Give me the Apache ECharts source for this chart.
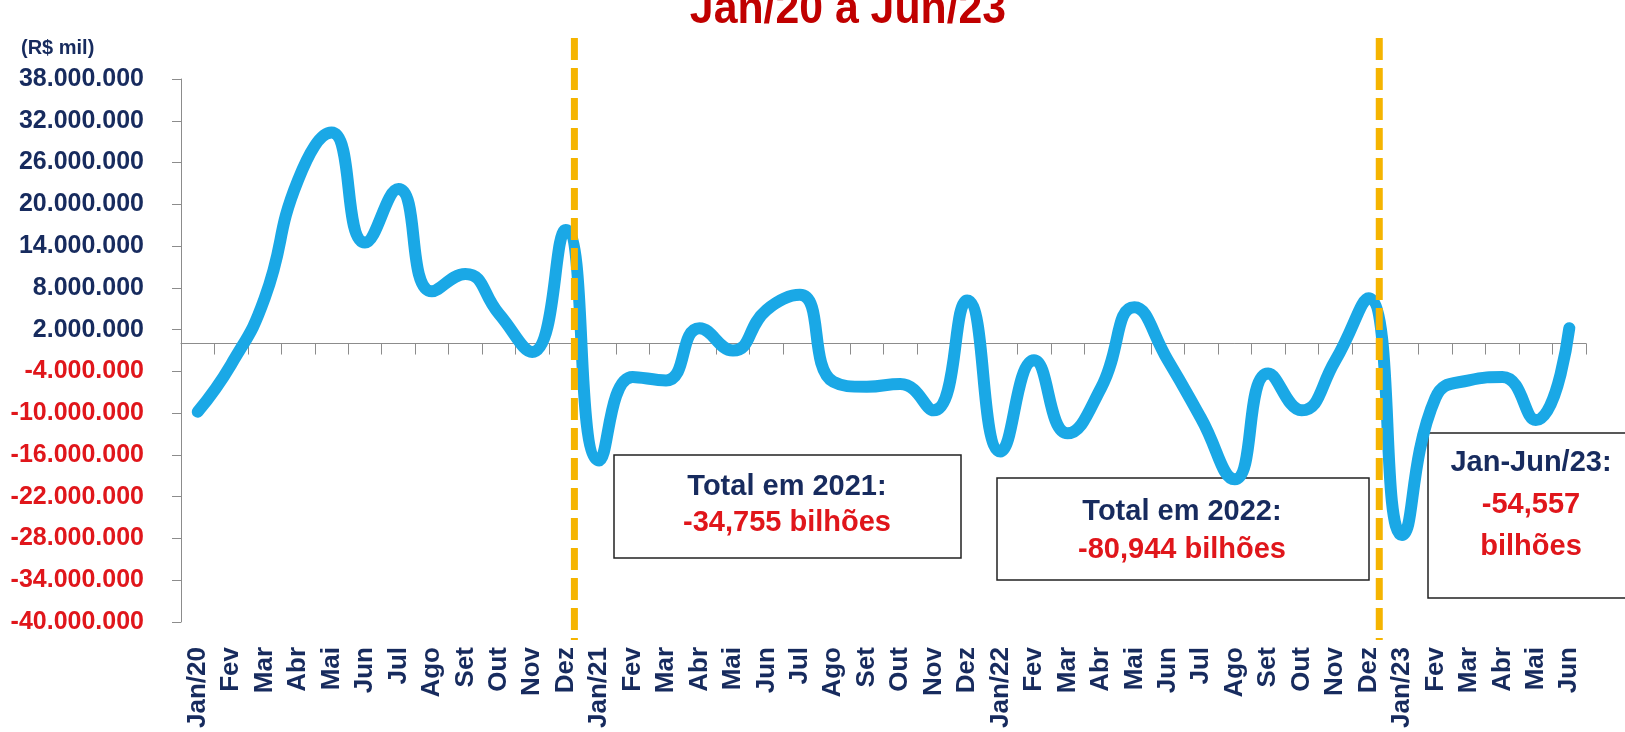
<!DOCTYPE html>
<html>
<head>
<meta charset="utf-8">
<script src="https://cdn.jsdelivr.net/npm/echarts@6/dist/echarts.min.js"></script>
<style>
    html, body { margin: 0; padding: 0; background: #fff; }
    #chart { width: 1625px; height: 732px; }
</style>
</head>
<body>
<div id="chart"></div>
<script>
    // meses de Jan/20 a Jun/23
    var meses = [
        'Jan/20', 'Fev', 'Mar', 'Abr', 'Mai', 'Jun', 'Jul', 'Ago', 'Set', 'Out', 'Nov', 'Dez',
        'Jan/21', 'Fev', 'Mar', 'Abr', 'Mai', 'Jun', 'Jul', 'Ago', 'Set', 'Out', 'Nov', 'Dez',
        'Jan/22', 'Fev', 'Mar', 'Abr', 'Mai', 'Jun', 'Jul', 'Ago', 'Set', 'Out', 'Nov', 'Dez',
        'Jan/23', 'Fev', 'Mar', 'Abr', 'Mai', 'Jun'
    ];
    // resultado mensal (R$ mil)
    var saldo = [
        -9800000, -3000000, 6500000, 23500000, 30300000, 14500000, 22200000, 7500000, 10000000, 4300000, -1200000, 16300000,
        -16800000, -4800000, -5300000, 2200000, -1000000, 4800000, 7000000, -5500000, -6200000, -5800000, -9600000, 6200000,
        -15500000, -2400000, -12900000, -6400000, 5200000, -2400000, -10800000, -19500000, -4300000, -9600000, -2500000, 6500000,
        -27500000, -7800000, -5300000, -4800000, -11000000, 2200000
    ];
    // eixo y: de -40.000.000 a 38.000.000, passo 6.000.000
    var yMin = -40000000;
    var yMax = 38000000;
    var yPasso = 6000000;
    // linhas de virada de ano (indice do mes + fracao ate o proximo)
    var viradas = [11.26, 35.32];

    var azulEscuro = '#172B5E';
    var vermelho = '#E0161B';
    var cinza = '#8C8C8C';

    function formatar(v) {
        v = Number(v);
        var s = Math.abs(v).toString().replace(/\B(?=(\d{3})+(?!\d))/g, '.');
        return (v < 0 ? '-' : '') + s;
    }

    var myChart = echarts.init(document.getElementById('chart'));
    myChart.setOption({
        animation: false,
        backgroundColor: '#fff',
        grid: { left: 181, right: 39, top: 79, bottom: 110 },
        xAxis: [
            {
                // linha no zero com as marcas
                type: 'category',
                data: meses,
                boundaryGap: true,
                axisLine: { onZero: true, lineStyle: { color: cinza, width: 1 } },
                axisTick: { show: true, length: 11, interval: 0, lineStyle: { color: cinza } },
                axisLabel: { show: false },
                splitLine: { show: false }
            },
            {
                // rotulos embaixo
                type: 'category',
                data: meses,
                position: 'bottom',
                boundaryGap: true,
                axisLine: { show: false, onZero: false },
                axisTick: { show: false },
                axisLabel: {
                    rotate: 90,
                    interval: 0,
                    margin: 25,
                    fontSize: 26,
                    fontWeight: 'bold',
                    fontFamily: 'Liberation Sans, Arial, sans-serif',
                    color: azulEscuro
                },
                splitLine: { show: false }
            }
        ],
        yAxis: {
            type: 'value',
            min: yMin,
            max: yMax,
            interval: yPasso,
            axisLine: { show: true, lineStyle: { color: cinza, width: 1 } },
            axisTick: { show: true, length: 9, lineStyle: { color: cinza } },
            splitLine: { show: false },
            axisLabel: {
                margin: 37,
                fontSize: 25,
                fontWeight: 'bold',
                fontFamily: 'Liberation Sans, Arial, sans-serif',
                formatter: formatar,
                color: function (v) {
                    return Number(v) < 0 ? vermelho : azulEscuro;
                }
            }
        },
        series: [{
            type: 'line',
            data: saldo,
            smooth: 0.5,
            showSymbol: false,
            z: 3,
            lineStyle: { color: '#1AA8E6', width: 12, cap: 'round', join: 'round' }
        }]
    });

    // posicoes das linhas tracejadas pela escala do eixo
    var graficos = [];
    viradas.forEach(function (pos) {
        var i = Math.floor(pos);
        var a = myChart.convertToPixel({ xAxisIndex: 0 }, i);
        var b = myChart.convertToPixel({ xAxisIndex: 0 }, i + 1);
        var x = a + (pos - i) * (b - a);
        graficos.push({
            type: 'line', z: 10,
            shape: { x1: x, y1: 38, x2: x, y2: 640 },
            style: { stroke: '#F5B400', lineWidth: 7, lineDash: [22, 8] }
        });
    });

    var fonteTit = 'bold 46px "Liberation Sans", Arial, sans-serif';
    var fonteCaixa = 'bold 29px "Liberation Sans", Arial, sans-serif';

    graficos.push(
        { type: 'text', x: 848, y: 10, scaleX: 0.93, style: { text: 'Jan/20 a Jun/23', font: fonteTit, fill: '#C00000', align: 'center', verticalAlign: 'middle' } },
        { type: 'text', x: 21, y: 48, style: { text: '(R$ mil)', font: 'bold 20px "Liberation Sans", Arial, sans-serif', fill: azulEscuro, align: 'left', verticalAlign: 'middle' } },

        // caixa 2021
        { type: 'rect', z: 1, shape: { x: 614, y: 455, width: 347, height: 103 }, style: { fill: '#fff', stroke: '#222', lineWidth: 1.5 } },
        { type: 'text', z: 1, x: 787, y: 487, style: { text: 'Total em 2021:', font: fonteCaixa, fill: azulEscuro, align: 'center', verticalAlign: 'middle' } },
        { type: 'text', z: 1, x: 787, y: 523, style: { text: '-34,755 bilhões', font: fonteCaixa, fill: vermelho, align: 'center', verticalAlign: 'middle' } },

        // caixa 2022
        { type: 'rect', z: 1, shape: { x: 997, y: 478, width: 372, height: 102 }, style: { fill: '#fff', stroke: '#222', lineWidth: 1.5 } },
        { type: 'text', z: 1, x: 1182, y: 512, style: { text: 'Total em 2022:', font: fonteCaixa, fill: azulEscuro, align: 'center', verticalAlign: 'middle' } },
        { type: 'text', z: 1, x: 1182, y: 550, style: { text: '-80,944 bilhões', font: fonteCaixa, fill: vermelho, align: 'center', verticalAlign: 'middle' } },

        // caixa 2023
        { type: 'rect', z: 1, shape: { x: 1428, y: 433, width: 220, height: 165 }, style: { fill: '#fff', stroke: '#222', lineWidth: 1.5 } },
        { type: 'text', z: 1, x: 1531, y: 463, style: { text: 'Jan-Jun/23:', font: fonteCaixa, fill: azulEscuro, align: 'center', verticalAlign: 'middle' } },
        { type: 'text', z: 1, x: 1531, y: 505, style: { text: '-54,557', font: fonteCaixa, fill: vermelho, align: 'center', verticalAlign: 'middle' } },
        { type: 'text', z: 1, x: 1531, y: 547, style: { text: 'bilhões', font: fonteCaixa, fill: vermelho, align: 'center', verticalAlign: 'middle' } }
    );

    myChart.setOption({ graphic: graficos });
</script>
</body>
</html>
